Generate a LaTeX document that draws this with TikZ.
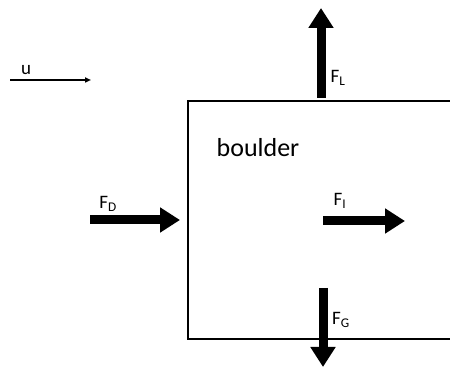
\documentclass[tikz,border=0pt]{standalone}
\usepackage{fontspec}
\setmainfont{Carlito}
\usetikzlibrary{arrows.meta}
\tikzset{
  force/.style={line width=9pt, -{Triangle[length=20pt,width=24pt]}},
  flabel/.style={font=\fontsize{19}{21}\selectfont, inner sep=0pt},
  wall/.style={line width=2.5pt}
}
\begin{document}
\begin{tikzpicture}[x=1pt,y=1pt]
\useasboundingbox (0,0) rectangle (450,367);
% box
\coordinate (tr) at (451,266);
\coordinate (tl) at (188,266);
\coordinate (bl) at (188,28);
\coordinate (br) at (451,28);
\draw[wall] (tr) -- (tl) -- (bl) -- (br);
\node[font=\fontsize{26}{30}\selectfont, inner sep=0pt] (boulder) at (258,219) {boulder};
% flow arrow u
\coordinate (u0) at (10,287);
\coordinate (u1) at (91,287);
\draw[line width=1.6pt, -{Triangle[length=6pt,width=5pt]}] (u0) -- (u1);
\node[flabel] (ulab) at (26,297) {u};
% F_L
\coordinate (L0) at (321,269);
\coordinate (L1) at (321,359);
\draw[force] (L0) -- (L1);
\node[flabel] (FL) at (338,289) {F\textsubscript{L}};
% F_D
\coordinate (D0) at (90,147);
\coordinate (D1) at (180,147);
\draw[force] (D0) -- (D1);
\node[flabel] (FD) at (108,163) {F\textsubscript{D}};
% F_I
\coordinate (I0) at (323,146);
\coordinate (I1) at (405,146);
\draw[force] (I0) -- (I1);
\node[flabel] (FI) at (340,166) {F\textsubscript{I}};
% F_G
\coordinate (G0) at (323,79);
\coordinate (G1) at (323,0);
\draw[force] (G0) -- (G1);
\node[flabel] (FG) at (341,47) {F\textsubscript{G}};
\end{tikzpicture}
\end{document}
